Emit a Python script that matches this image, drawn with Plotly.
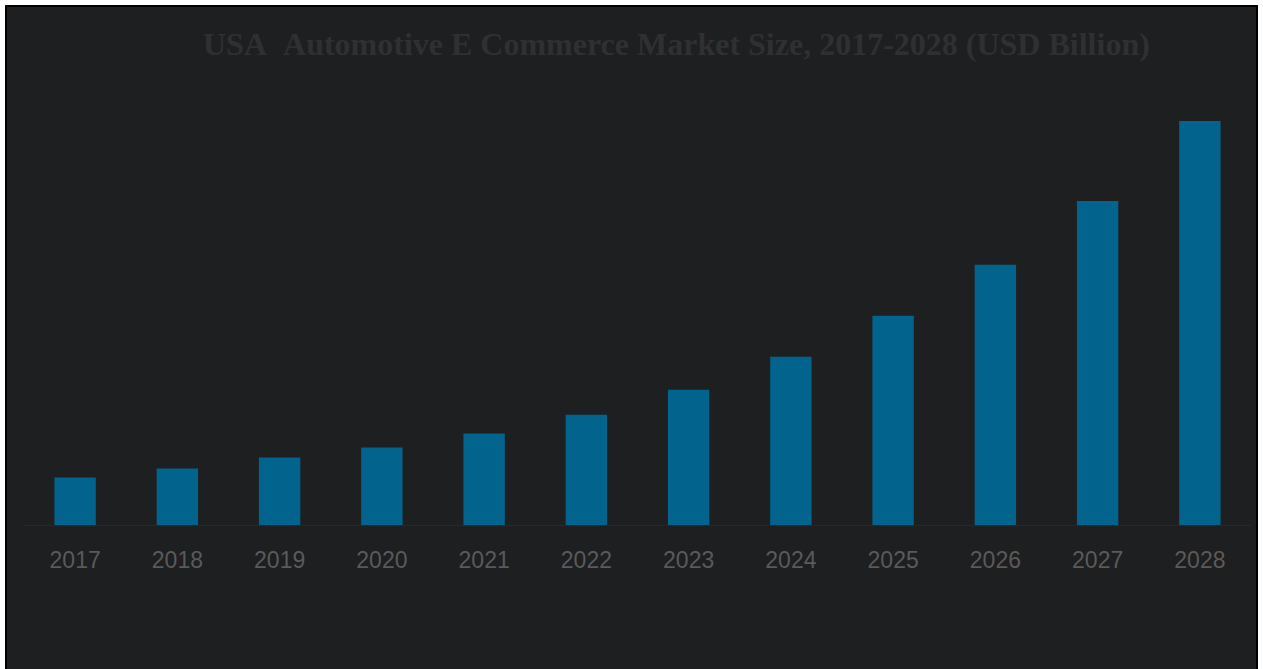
import plotly.graph_objects as go

# Market size by year (USD Billion)
years = ["2017", "2018", "2019", "2020", "2021", "2022",
         "2023", "2024", "2025", "2026", "2027", "2028"]
market_size = [4.75, 5.65, 6.75, 7.75, 9.15, 11.05,
               13.55, 16.85, 20.95, 26.05, 32.45, 40.45]

title_text = "USA\u00a0\u00a0Automotive E Commerce Market Size, 2017-2028 (USD Billion)"

W, H = 1263, 669
ML, MR, MT, MB = 24, 12, 100, 143.5
pw = W - ML - MR
ph = H - MT - MB


def px_x(p):
    return (p - ML) / pw


def px_y(p):
    return (H - MB - p) / ph


fig = go.Figure(
    go.Bar(
        x=years,
        y=market_size,
        marker=dict(color="#02638c", line=dict(width=0)),
        width=0.405,
        hoverinfo="x+y",
    )
)

fig.update_layout(
    width=W,
    height=H,
    margin=dict(l=ML, r=MR, t=MT, b=MB, pad=0),
    paper_bgcolor="#ffffff",
    plot_bgcolor="rgba(0,0,0,0)",
    showlegend=False,
    shapes=[
        dict(
            type="rect", xref="paper", yref="paper",
            x0=px_x(6), x1=px_x(1257), y0=px_y(700), y1=px_y(6),
            fillcolor="#1e1f21", line=dict(color="#000000", width=2),
            layer="below",
        )
    ],
    annotations=[
        dict(
            text=title_text, xref="paper", yref="paper",
            x=px_x(676.5), y=px_y(44), xanchor="center", yanchor="middle",
            showarrow=False,
            font=dict(family="Liberation Serif", size=32, color="#2f3032",
                      weight="bold"),
        )
    ],
)

fig.update_xaxes(
    type="category",
    range=[-0.5, 11.5],
    showgrid=False,
    zeroline=False,
    showline=True,
    linecolor="#27282a",
    linewidth=1,
    ticks="outside",
    ticklen=14,
    tickcolor="rgba(0,0,0,0)",
    tickfont=dict(family="Liberation Sans", size=23, color="#5a5a5a"),
)
fig.update_yaxes(
    range=[0, ph / 10],
    visible=False,
    showgrid=False,
    zeroline=False,
)

fig.write_html("out.html")
